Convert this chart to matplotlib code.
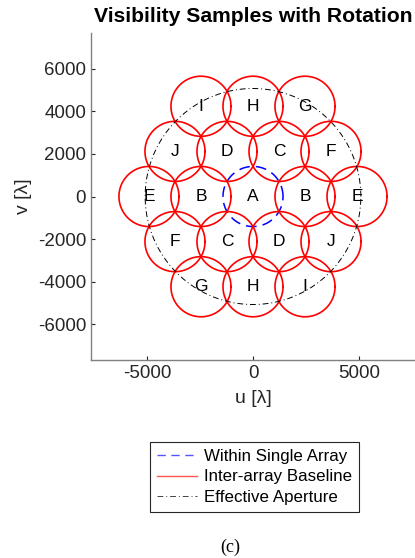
import numpy as np
import matplotlib
matplotlib.use("Agg")
import matplotlib.pyplot as plt
from matplotlib.lines import Line2D

plt.rcParams["font.family"] = ["Liberation Sans", "DejaVu Sans"]
plt.rcParams["axes.unicode_minus"] = False

# hexagonal sample layout (units of wavelength)
spacing = 2450.0
row_h = spacing * np.sqrt(3) / 2
sample_radius = 1414.0
aperture_radius = 5080.0

labels = ["B", "C", "D", "B", "C", "D",
          "E", "F", "G", "H", "I", "J", "E", "F", "G", "H", "I", "J"]
u_centers = [spacing, spacing / 2, -spacing / 2, -spacing, -spacing / 2, spacing / 2,
             -2 * spacing, -1.5 * spacing, -spacing, 0.0, spacing, 1.5 * spacing,
             2 * spacing, 1.5 * spacing, spacing, 0.0, -spacing, -1.5 * spacing]
v_centers = [0.0, row_h, row_h, 0.0, -row_h, -row_h,
             0.0, -row_h, -2 * row_h, -2 * row_h, -2 * row_h, -row_h,
             0.0, row_h, 2 * row_h, 2 * row_h, 2 * row_h, row_h]

xticks = [-5000, 0, 5000]
yticks = [-6000, -4000, -2000, 0, 2000, 4000, 6000]

theta = np.linspace(0, 2 * np.pi, 400)

fig = plt.figure(figsize=(4.15, 5.58), dpi=100)
ax = fig.add_axes([91 / 415, 1 - 360 / 558, 324 / 415, 327 / 558])

# central sample from the single array
ax.plot(sample_radius * np.cos(theta), sample_radius * np.sin(theta),
        color="blue", lw=1.1, dashes=(7, 4))
ax.text(0, 0, "A", ha="center", va="center", fontsize=12.5)

for lab, uc, vc in zip(labels, u_centers, v_centers):
    ax.plot(uc + sample_radius * np.cos(theta), vc + sample_radius * np.sin(theta),
            color="red", lw=1.2)
    ax.text(uc, vc, lab, ha="center", va="center", fontsize=12.5)

ax.plot(aperture_radius * np.cos(theta), aperture_radius * np.sin(theta),
        color="black", lw=0.7, linestyle=(0, (6, 3, 1, 3)))

ax.set_xlim(-7630, 7630)
ax.set_ylim(-7690, 7690)
ax.set_xticks(xticks)
ax.set_yticks(yticks)
ax.tick_params(direction="in", length=3, labelsize=13.5, colors="#262626",
               width=0.8)
for side in ["top", "right"]:
    ax.spines[side].set_visible(False)
for side in ["left", "bottom"]:
    ax.spines[side].set_color("#808080")
    ax.spines[side].set_linewidth(1.0)

ax.set_xlabel("u [λ]", fontsize=14, color="#262626", labelpad=6)
ax.set_ylabel("v [λ]", fontsize=14, color="#262626", labelpad=4)
ax.set_title("Visibility Samples with Rotation", fontsize=15.2,
             fontweight="bold", pad=8)

handles = [
    Line2D([], [], color="#5555ff", lw=1.0, dashes=(6, 4)),
    Line2D([], [], color="#ff5555", lw=1.0),
    Line2D([], [], color="#444444", lw=0.7, linestyle=(0, (6, 3, 1, 3))),
]
names = ["Within Single Array", "Inter-array Baseline", "Effective Aperture"]
leg = fig.legend(handles, names, loc="center",
                 bbox_to_anchor=(254.5 / 415, 1 - 477 / 558),
                 fontsize=12.2, fancybox=False, edgecolor="#262626",
                 framealpha=1, handlelength=2.4, borderpad=0.4,
                 borderaxespad=0.0, labelspacing=0.32, handletextpad=0.4)
leg.get_frame().set_linewidth(0.8)

fig.text(230 / 415, 1 - 547 / 558, "(c)", ha="center", va="center",
         fontsize=13, family="Liberation Serif")

fig.savefig("out.png", dpi=100)
